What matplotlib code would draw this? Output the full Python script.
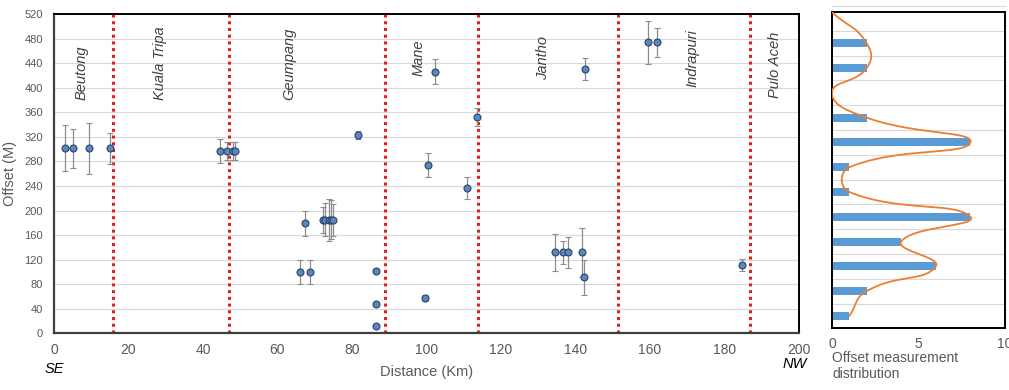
#!/usr/bin/env python3
"""
Fault offset vs distance along strike, with offset histogram.
"""
import matplotlib.pyplot as plt
import numpy as np

plt.rcParams["font.family"] = ["Liberation Sans", "DejaVu Sans"]

# offset measurements along the fault
distance = [3.0, 5.0, 9.5, 15.0, 44.7, 46.4, 48.1, 48.7, 66.0, 67.3, 68.7,
            72.1, 72.8, 73.7, 74.4, 75.0, 81.5, 86.4, 86.4, 86.4, 99.5, 100.3,
            102.2, 110.8, 113.6, 134.4, 136.7, 138.1, 141.8, 142.4, 142.6,
            159.5, 162.0, 184.6]
offset = [302, 301, 301, 301, 297, 297, 297, 297, 100, 179, 100,
          185, 185, 185, 185, 185, 323, 102, 48, 12, 57, 274,
          426, 236, 352, 132, 132, 132, 132, 91, 431,
          474, 474, 111]
offset_err = [37, 31, 41, 25, 20, 15, 15, 15, 20, 21, 20,
              21, 27, 34, 32, 26, 7, 0, 0, 0, 5, 20,
              20, 18, 15, 30, 19, 25, 40, 29, 18,
              35, 24, 10]

# segment boundaries (km) and segment names
boundaries = [15.8, 46.9, 88.9, 113.8, 151.5, 186.8]
segments = ["Beutong", "Kuala Tripa", "Geumpang", "Mane", "Jantho", "Indrapuri", "Pulo Aceh"]
segment_x = [7.4, 28.5, 63.2, 97.8, 131.4, 171.5, 193.6]
segment_y = [380, 380, 380, 419, 412, 401, 383]

# histogram of offsets (40 m bins)
bin_centers = [20, 60, 100, 140, 180, 220, 260, 300, 340, 380, 420, 460]
bin_counts = [1, 2, 6, 4, 8, 1, 1, 8, 2, 0, 2, 2]
# curve end point at top of the panel
curve_top = (0, 510)


def excel_smooth(xs, ys, sx, sy, n=30):
    """Bezier smoothing through points, like a spreadsheet 'smoothed line'."""
    p = np.column_stack([np.asarray(xs) * sx, np.asarray(ys) * sy])
    out = []
    for i in range(len(p) - 1):
        p0 = p[i - 1] if i > 0 else p[i]
        p1, p2 = p[i], p[i + 1]
        p3 = p[i + 2] if i + 2 < len(p) else p[i + 1]
        d01 = np.linalg.norm(p1 - p0)
        d12 = np.linalg.norm(p2 - p1)
        d23 = np.linalg.norm(p3 - p2)
        f1 = 0.5 * d12 / (d01 + d12) if d01 + d12 > 0 else 0
        f2 = 0.5 * d12 / (d12 + d23) if d12 + d23 > 0 else 0
        c1 = p1 + (p2 - p0) * f1
        c2 = p2 - (p3 - p1) * f2
        t = np.linspace(0, 1, n)[:, None]
        seg = ((1 - t) ** 3) * p1 + 3 * ((1 - t) ** 2) * t * c1 + 3 * (1 - t) * t ** 2 * c2 + t ** 3 * p2
        out.append(seg if i == 0 else seg[1:])
    out = np.vstack(out)
    return out[:, 0] / sx, out[:, 1] / sy


fig = plt.figure(figsize=(10.09, 3.9), dpi=100)
ax = fig.add_axes([0.0535, 0.1454, 0.7384, 0.8186])
ax2 = fig.add_axes([0.8246, 0.1582, 0.1715, 0.8103])

gray = "#595959"

# main panel
ax.set_axisbelow(True)
ax.grid(axis="y", color="#d9d9d9", linewidth=0.8)
for b in boundaries:
    ax.axvline(b, color="#e02020", linestyle=(0, (1, 1.2)), linewidth=2.2, zorder=2)
ax.errorbar(distance, offset, yerr=offset_err, fmt="o", ms=5,
            mfc="#5b87c0", mec="#2a4466", mew=0.8,
            ecolor="#8c8c8c", elinewidth=0.9, capsize=2, capthick=0.8, zorder=3)
for name, sx, sy in zip(segments, segment_x, segment_y):
    ax.text(sx, sy, name, rotation=90, ha="center", va="bottom",
            style="italic", fontsize=10.5, color="#404040")

ax.set_xlim(0, 200)
ax.set_ylim(0, 520)
ax.set_xticks(np.arange(0, 201, 20))
ax.set_yticks(np.arange(0, 521, 40))
ax.tick_params(axis="x", length=0, pad=7, labelsize=10, labelcolor=gray)
ax.tick_params(axis="y", length=0, pad=8, labelsize=8, labelcolor=gray)
ax.set_xlabel("Distance (Km)", fontsize=10.5, color=gray, labelpad=6)
ax.set_ylabel("Offset (M)", fontsize=10.5, color=gray, labelpad=5)
for side in ["top", "right"]:
    ax.spines[side].set_color("black")
    ax.spines[side].set_linewidth(1.4)
for side in ["left", "bottom"]:
    ax.spines[side].set_color("#404040")
    ax.spines[side].set_linewidth(1.6)

fig.text(45 / 1009, 1 - 369 / 390, "SE", style="italic", fontsize=10.5,
         ha="left", va="center", color="black")
fig.text(807 / 1009, 1 - 364 / 390, "NW", style="italic", fontsize=10.5,
         ha="right", va="center", color="black")

# histogram panel
ax2.set_axisbelow(True)
for g in np.arange(40, 521, 40):
    ax2.axhline(g, color="#d9d9d9", linewidth=0.8, clip_on=False, zorder=0)
ax2.barh(bin_centers, bin_counts, height=13, color="#5b9bd5", zorder=2)
cx, cy = excel_smooth([curve_top[0]] + bin_counts[::-1], [curve_top[1]] + bin_centers[::-1],
                      17.3, 0.62)
ax2.plot(cx, cy, color="#ed7d31", linewidth=1.3, zorder=3)
ax2.set_xlim(0, 10)
ax2.set_ylim(0, 510)
ax2.set_xticks([0, 5, 10])
ax2.set_yticks([])
ax2.tick_params(axis="x", length=0, pad=6, labelsize=10, labelcolor=gray)
for side in ax2.spines.values():
    side.set_color("black")
    side.set_linewidth(1.4)
fig.text(832 / 1009, 1 - 366 / 390, "Offset measurement\ndistribution", fontsize=10,
         color=gray, ha="left", va="center", linespacing=1.15)

fig.savefig("out.png", dpi=100)
